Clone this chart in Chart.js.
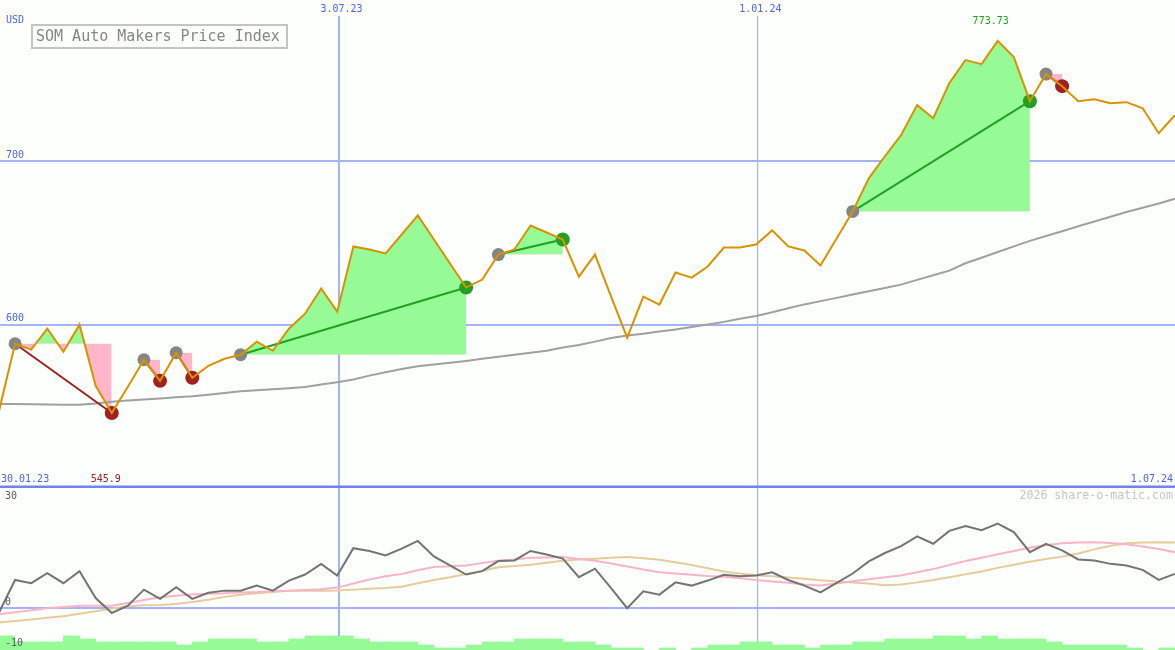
<!DOCTYPE html>
<html><head><meta charset="utf-8">
<script src="https://cdn.jsdelivr.net/npm/chart.js@4.4.1/dist/chart.umd.min.js"></script>
<style>
html,body{margin:0;padding:0;background:#fcfffc;overflow:hidden;}
#wrap{position:relative;width:1175px;height:650px;overflow:hidden;}
#c1{position:absolute;left:-1px;top:0;width:1177px;height:488px;}
#c2{position:absolute;left:-1px;top:485px;width:1177px;height:166px;}
</style></head><body>
<div id="wrap"><canvas id="c1" width="1177" height="488"></canvas><canvas id="c2" width="1177" height="166"></canvas></div>
<script>
// ---- data (weekly closes, week 1 = first visible week after 30.01.23) ----
const price = [547.2, 588.3, 584.7, 597.5, 583.4, 600.0, 562.6, 545.9, 562.0, 578.5,
  565.6, 582.8, 567.5, 574.8, 579.1, 581.6, 589.6, 584.0, 597.5, 606.7,
  622.1, 608.0, 647.9, 646.0, 643.6, 655.2, 666.9, 652.1, 637.4, 622.7,
  627.6, 642.9, 646.0, 660.7, 656.4, 652.1, 629.4, 642.9, 617.2, 592.0,
  617.2, 612.3, 631.9, 628.8, 635.6, 647.2, 647.2, 649.1, 657.7, 647.9,
  645.4, 636.2, 652.8, 669.3, 689.6, 703.1, 716.0, 734.4, 726.4, 747.9,
  762.0, 759.5, 773.73, 763.8, 736.8, 753.4, 746.0, 736.8, 738.0, 735.6,
  736.2, 732.5, 717.2, 728.2];
const movingAvg = [551.5, 551.4, 551.2, 551.1, 551.0, 550.9, 551.8, 552.8, 553.5, 554.2,
  554.8, 555.5, 556.1, 557.1, 558.2, 559.3, 559.9, 560.4, 561.0, 561.8,
  563.4, 564.8, 566.4, 568.8, 570.9, 572.8, 574.6, 575.6, 576.7, 577.8,
  579.1, 580.4, 581.6, 582.8, 584.0, 586.0, 587.6, 589.6, 591.8, 593.3,
  594.5, 595.8, 597.1, 598.6, 600.1, 601.7, 603.6, 605.3, 607.6, 610.0,
  612.4, 614.4, 616.4, 618.5, 620.5, 622.5, 624.5, 627.4, 630.2, 633.1,
  637.6, 641.0, 644.5, 647.9, 651.3, 654.3, 657.2, 660.2, 663.2, 666.1,
  669.0, 671.6, 674.2, 677.1];
const oscillator = [-1.2, 6.9, 6.1, 8.6, 6.1, 9.1, 2.4, -1.3, 0.5, 4.5,
  2.2, 5.1, 2.2, 3.7, 4.25, 4.25, 5.5, 4.25, 6.75, 8.25,
  10.9, 8.0, 14.8, 14.1, 13.0, 14.7, 16.6, 12.75, 10.5, 8.25,
  9.1, 11.6, 11.75, 14.1, 13.25, 12.2, 7.6, 9.7, 4.9, -0.1,
  4.1, 3.25, 6.3, 5.5, 6.75, 8.2, 7.8, 8.0, 8.8, 6.9,
  5.5, 3.8, 6.2, 8.5, 11.5, 13.6, 15.3, 17.75, 15.9, 19.1,
  20.3, 19.25, 20.9, 18.8, 13.8, 15.9, 14.25, 12.0, 11.75, 10.9,
  10.5, 9.4, 6.9, 8.4];
const oscAvgFast = [-1.6, -1.1, -0.6, -0.1, 0.2, 0.5, 0.5, 0.5, 1.2, 1.9,
  2.6, 3.0, 3.3, 3.5, 3.6, 3.8, 3.9, 4.1, 4.2, 4.4,
  4.6, 5.0, 6.0, 7.0, 7.8, 8.4, 9.3, 10.1, 10.3, 10.5,
  11.1, 11.7, 12.0, 12.4, 12.5, 12.6, 12.1, 11.7, 11.0, 10.25,
  9.5, 8.8, 8.5, 8.2, 7.9, 7.7, 7.3, 6.9, 6.5, 6.2,
  5.8, 5.5, 6.0, 6.6, 7.1, 7.6, 8.0, 8.8, 9.6, 10.6,
  11.6, 12.4, 13.3, 14.1, 14.9, 15.5, 16.0, 16.2, 16.3, 16.1,
  15.8, 15.2, 14.6, 13.8];
const oscAvgSlow = [-3.7, -3.3, -2.9, -2.5, -2.1, -1.5, -0.9, -0.2, 0.4, 0.6,
  0.7, 0.9, 1.4, 2.0, 2.7, 3.2, 3.6, 3.9, 4.25, 4.25,
  4.25, 4.3, 4.5, 4.7, 4.9, 5.2, 6.1, 6.9, 7.6, 8.4,
  9.2, 10.05, 10.4, 10.7, 11.2, 11.7, 12.0, 12.2, 12.4, 12.6,
  12.3, 11.9, 11.3, 10.6, 9.8, 9.0, 8.5, 8.1, 7.8, 7.5,
  7.2, 6.8, 6.5, 6.3, 6.0, 5.6, 5.8, 6.3, 6.9, 7.6,
  8.3, 9.0, 9.9, 10.7, 11.4, 12.1, 12.7, 13.5, 14.5, 15.4,
  16.0, 16.2, 16.3, 16.2];
const volumeLevel = [5, 3, 3, 3, 5, 4, 3, 3, 3, 3,
  3, 2, 3, 4, 4, 4, 3, 3, 4, 5,
  5, 5, 4, 3, 3, 3, 2, 1, 1, 2,
  3, 3, 4, 4, 4, 3, 3, 2, 1, 1,
  0, 1, 0, 1, 2, 2, 3, 3, 2, 2,
  1, 2, 2, 3, 3, 4, 4, 4, 5, 5,
  4, 5, 4, 4, 4, 3, 2, 2, 2, 2,
  1, 0, 1, 1];
const tradeEntry = [2, 10, 12, 16, 32, 54, 66];
const tradeExit  = [8, 11, 13, 30, 36, 65, 67];
const gridWeeks  = [22.08, 48.08];
const gridLabels = ['3.07.23', '1.01.24'];
const startLabel = '30.01.23';
const endLabel = '1.07.24';
const mainTicks = [600, 700];
const oscTicks = [30, 0, -10];
const titleText = 'SOM Auto Makers Price Index';
const unitText = 'USD';
const creditText = '2026 share-o-matic.com';

// ---- styles ----
const BLUE_TXT = '#4a64f0', GRID = '#a4b4f4', SEP = '#7084ec';
const ORANGE = '#da9200', GRAY_MA = '#a0a0a0';
const WIN = '#22a022', LOSS = '#a32020', ENTRY = '#858585';
const FILL_UP = '#96fa96', FILL_DN = '#ffb6c8';
const MONO = '"DejaVu Sans Mono", "Liberation Mono", monospace';
const CLEAR = 'rgba(0,0,0,0)';

const weeks = price.map((_, i) => i + 1);
const pts = arr => arr.map((v, i) => ({x: weeks[i], y: v}));

const xScale = () => ({
  type: 'linear', min: 1, max: 74.07, offset: false, position: 'top',
  border: {display: false},
  ticks: {display: false},
  grid: {color: GRID, lineWidth: c => (c.index === 0 ? 2 : 1.2), drawTicks: false, offset: false},
  afterBuildTicks: s => { s.ticks = gridWeeks.map(v => ({value: v})); }
});

// ---- main chart datasets ----
const ds = [];
ds.push({label: 'price', data: pts(price), borderColor: ORANGE, borderWidth: 2, pointRadius: 0, fill: false, order: 0});
ds.push({label: 'ma', data: pts(movingAvg), borderColor: GRAY_MA, borderWidth: 2, pointRadius: 0, fill: false, order: 5});
const exitColors = tradeExit.map((k, t) => price[k - 1] >= price[tradeEntry[t] - 1] ? WIN : LOSS);
ds.push({label: 'entries', data: pts(price), showLine: false, borderWidth: 0, pointBorderWidth: 0,
  pointRadius: weeks.map(k => tradeEntry.includes(k) ? 6.5 : 0),
  pointBackgroundColor: ENTRY, order: 2});
ds.push({label: 'exits', data: pts(price), showLine: false, borderWidth: 0, pointBorderWidth: 0,
  pointRadius: weeks.map(k => tradeExit.includes(k) ? 7 : 0),
  pointBackgroundColor: weeks.map(k => { const t = tradeExit.indexOf(k); return t < 0 ? CLEAR : exitColors[t]; }),
  order: 2});
tradeEntry.forEach((e, t) => {
  const x = tradeExit[t];
  ds.push({label: 'trade' + t, data: [{x: e, y: price[e - 1]}, {x: x, y: price[x - 1]}],
    borderColor: exitColors[t], borderWidth: 2, pointRadius: 0, fill: false, order: 3});
  const range = weeks.filter(k => k >= e && k <= x);
  const levelIdx = ds.length;
  ds.push({label: 'level' + t, data: range.map(k => ({x: k, y: price[e - 1]})),
    borderWidth: 0, borderColor: CLEAR, pointRadius: 0, fill: false, order: 8});
  ds.push({label: 'seg' + t, data: range.map(k => ({x: k, y: price[k - 1]})),
    borderWidth: 0, borderColor: CLEAR, pointRadius: 0,
    fill: {target: levelIdx, above: FILL_UP, below: FILL_DN}, order: 7});
});

const minIdx = price.indexOf(Math.min(...price));
const maxIdx = price.indexOf(Math.max(...price));

const mainText = {
  id: 'mainText',
  afterDraw(chart) {
    const {ctx, scales: {x, y}, chartArea} = chart;
    const L = chartArea.left, R = chartArea.right;
    ctx.save();
    ctx.font = '10px ' + MONO;
    ctx.textBaseline = 'middle';
    ctx.fillStyle = BLUE_TXT;
    ctx.textAlign = 'left';
    ctx.fillText(unitText, L + 7, 20);
    mainTicks.forEach(v => ctx.fillText(String(v), L + 7, y.getPixelForValue(v) - 6));
    ctx.textAlign = 'center';
    gridWeeks.forEach((w, i) => ctx.fillText(gridLabels[i], x.getPixelForValue(w) + 3, 9));
    const by = chartArea.bottom - 9;
    ctx.textAlign = 'left';
    ctx.fillText(startLabel, L + 2, by);
    ctx.textAlign = 'right';
    ctx.fillText(endLabel, R - 3, by);
    ctx.textAlign = 'center';
    ctx.fillStyle = LOSS;
    ctx.fillText(String(price[minIdx]), x.getPixelForValue(weeks[minIdx]) - 6, by);
    ctx.fillStyle = WIN;
    ctx.fillText(price[maxIdx].toFixed(2), x.getPixelForValue(weeks[maxIdx]) - 7, y.getPixelForValue(price[maxIdx]) - 19);
    // title box
    ctx.fillStyle = '#fcfffc';
    ctx.fillRect(L + 33, 25, 255, 23);
    ctx.strokeStyle = '#c4c4c4';
    ctx.lineWidth = 2;
    ctx.strokeRect(L + 33, 25, 255, 23);
    ctx.font = '15px ' + MONO;
    ctx.fillStyle = '#868686';
    ctx.textAlign = 'left';
    ctx.fillText(titleText, L + 37, 37);
    ctx.restore();
  }
};

new Chart(document.getElementById('c1'), {
  type: 'line',
  data: {datasets: ds},
  options: {
    responsive: false, animation: false, events: [], devicePixelRatio: 1,
    layout: {padding: {top: 16, left: 0, right: 0, bottom: 0}},
    plugins: {legend: {display: false}, tooltip: {enabled: false}, filler: {propagate: false}},
    elements: {line: {tension: 0}},
    scales: {
      x: xScale(),
      y: {min: 500, max: 788.96, border: {display: false}, ticks: {display: false},
        grid: {color: GRID, lineWidth: 2, drawTicks: false},
        afterBuildTicks: s => { s.ticks = mainTicks.map(v => ({value: v})); }}
    }
  },
  plugins: [mainText]
});

// ---- oscillator panel ----
const oscText = {
  id: 'oscText',
  afterDraw(chart) {
    const {ctx, scales: {y}, chartArea} = chart;
    const L = chartArea.left, R = chartArea.right;
    ctx.save();
    ctx.fillStyle = SEP;
    ctx.fillRect(0, chartArea.top - 1.5, chart.width, 2.5);
    ctx.font = '10px ' + MONO;
    ctx.textBaseline = 'middle';
    ctx.textAlign = 'left';
    ctx.fillStyle = '#5a5a5a';
    oscTicks.forEach(v => {
      const py = y.getPixelForValue(v);
      ctx.fillText(String(v), L + 6, v === oscTicks[0] ? py + 9 : py - 5);
    });
    ctx.font = '11.6px ' + MONO;
    ctx.fillStyle = '#c6c6c6';
    ctx.textAlign = 'right';
    ctx.fillText(creditText, R - 3, y.getPixelForValue(oscTicks[0]) + 9);
    ctx.restore();
  }
};

new Chart(document.getElementById('c2'), {
  type: 'line',
  data: {datasets: [
    {label: 'osc', data: pts(oscillator), borderColor: '#747474', borderWidth: 2, pointRadius: 0, order: 0},
    {label: 'fast', data: pts(oscAvgFast), borderColor: '#f8b4c8', borderWidth: 2, pointRadius: 0, order: 1},
    {label: 'slow', data: pts(oscAvgSlow), borderColor: '#e6cc9c', borderWidth: 2, pointRadius: 0, order: 2},
    {type: 'bar', label: 'volume', yAxisID: 'yv',
      data: volumeLevel.map((v, i) => ({x: weeks[i] + 0.5, y: v > 0 ? v : null})),
      backgroundColor: FILL_UP, borderWidth: 0, barPercentage: 1, categoryPercentage: 1, order: 3}
  ]},
  options: {
    responsive: false, animation: false, events: [], devicePixelRatio: 1,
    layout: {padding: {top: 2, left: 0, right: 0, bottom: 0}},
    plugins: {legend: {display: false}, tooltip: {enabled: false}},
    elements: {line: {tension: 0}},
    scales: {
      x: xScale(),
      y: {min: -10.75, max: 30, border: {display: false}, ticks: {display: false},
        grid: {color: GRID, lineWidth: 2, drawTicks: false},
        afterBuildTicks: s => { s.ticks = [{value: 0}]; }},
      yv: {min: 0, max: 54.33, display: false}
    }
  },
  plugins: [oscText]
});
</script>
</body></html>
